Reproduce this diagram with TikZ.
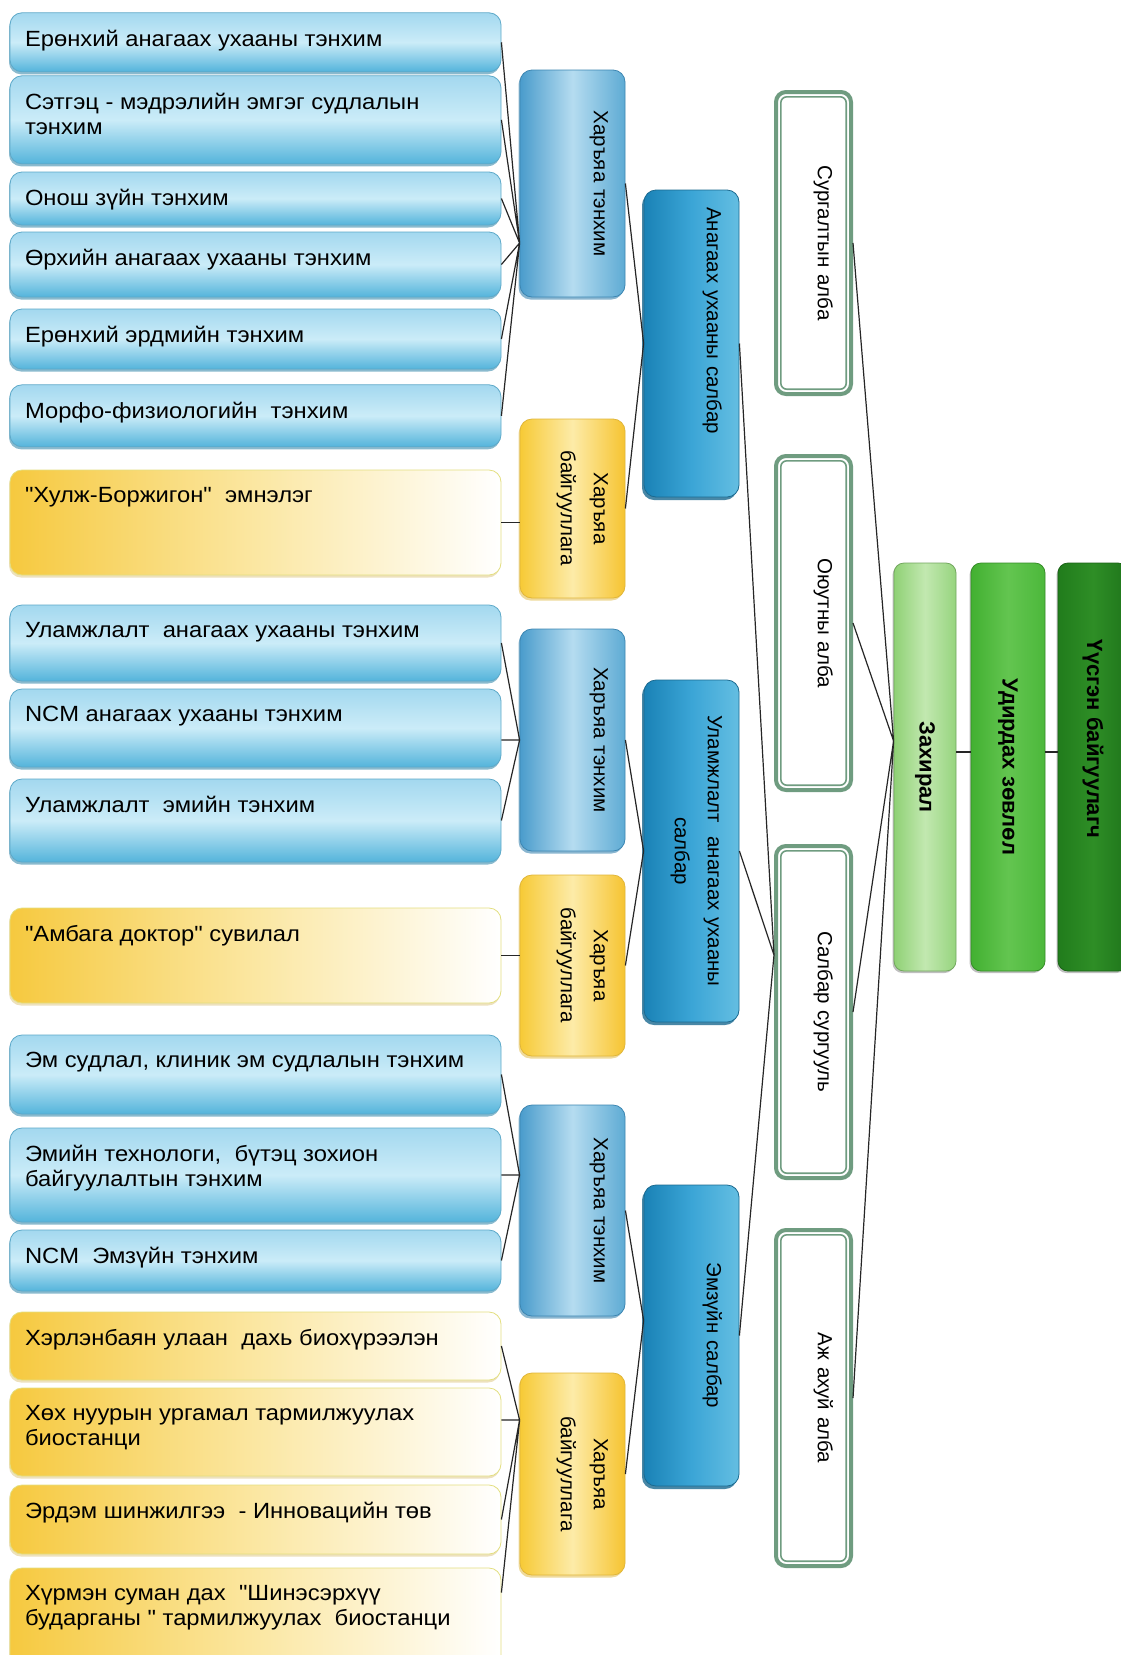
\documentclass[tikz,border=0pt]{standalone}
\usepackage{fontspec}
\setmainfont{Liberation Sans}
\newfontfamily\widefont{Liberation Sans}[FakeStretch=1.08]
\usepackage{graphicx}
\usetikzlibrary{shadows}

\definecolor{deptA}{HTML}{A3D8EF}
\definecolor{deptB}{HTML}{CBECF8}
\definecolor{deptC}{HTML}{54B4DB}
\definecolor{deptedge}{HTML}{5DA9C9}
\definecolor{deptshade}{HTML}{3D8DAE}
\definecolor{unitA}{HTML}{F6C93F}
\definecolor{unitB}{HTML}{FBE7A2}
\definecolor{unitedge}{HTML}{E3DF80}
\definecolor{unitshade}{HTML}{D2B45A}
\definecolor{grpA}{HTML}{4A9CCC}
\definecolor{grpB}{HTML}{B5DCF0}
\definecolor{grpC}{HTML}{5EABD4}
\definecolor{grpedge}{HTML}{3C86B2}
\definecolor{orgA}{HTML}{F7CA36}
\definecolor{orgB}{HTML}{FDEBA8}
\definecolor{orgC}{HTML}{F6C431}
\definecolor{orgedge}{HTML}{E0B63A}
\definecolor{brA}{HTML}{1A82B6}
\definecolor{brB}{HTML}{3BA5D6}
\definecolor{brC}{HTML}{64BEE2}
\definecolor{bredge}{HTML}{1B6A90}
\definecolor{offgreen}{HTML}{6F9C80}
\definecolor{zahA}{HTML}{8FD175}
\definecolor{zahB}{HTML}{C2E8B0}
\definecolor{zahC}{HTML}{96D47E}
\definecolor{udA}{HTML}{42B031}
\definecolor{udB}{HTML}{63C550}
\definecolor{udC}{HTML}{4CB83B}
\definecolor{usA}{HTML}{217C1C}
\definecolor{usB}{HTML}{2E8E26}
\definecolor{usC}{HTML}{1F751B}

\newcommand\lefttext{\widefont\fontsize{22}{25.5}\selectfont}
\newcommand\sidetext{\fontsize{20.5}{33}\selectfont}
\newcommand\leadtext{\bfseries\fontsize{22}{26}\selectfont}
\newcommand\vlabel[1]{\rotatebox{-90}{#1}}
\newcommand\twolines[2]{\vbox{\halign{\hfil##\hfil\cr#1\cr#2\cr}}}

\begin{document}
\begin{tikzpicture}[x=1pt, y=-1pt,
  link/.style={draw=black!85, line width=1.2pt},
  leftbox/.style={rounded corners=12pt, line width=0.8pt, minimum width=491pt, minimum height=#1,
    inner xsep=15pt, inner ysep=17pt, font=\lefttext,
    execute at begin node={\begin{minipage}[c][\dimexpr#1-34pt\relax][t]{461pt}\raggedright},
    execute at end node={\end{minipage}}},
  deptbox/.style={leftbox=#1, draw=deptedge, top color=deptA, bottom color=deptC, middle color=deptB,
    drop shadow={shadow xshift=-1pt, shadow yshift=-2.5pt, fill=deptshade, opacity=0.6}},
  unitbox/.style={leftbox=#1, draw=unitedge, left color=unitA, right color=white, middle color=unitB,
    drop shadow={shadow xshift=-1pt, shadow yshift=-2.5pt, fill=unitshade, opacity=0.4}},
  sidebox/.style={rounded corners=12pt, line width=0.8pt, minimum height=#1, align=right,
    inner xsep=17pt, inner ysep=0pt, font=\sidetext},
  grptenhim/.style={sidebox=#1, minimum width=105pt, text width=71pt, draw=grpedge,
    left color=grpA, right color=grpC, middle color=grpB,
    drop shadow={shadow xshift=-1.5pt, shadow yshift=-2.5pt, fill=grpedge, opacity=0.6}},
  grporg/.style={sidebox=#1, minimum width=105pt, text width=71pt, draw=orgedge,
    left color=orgA, right color=orgC, middle color=orgB,
    drop shadow={shadow xshift=-1.5pt, shadow yshift=-2.5pt, fill=orgedge, opacity=0.5}},
  salbar/.style={sidebox=#1, minimum width=95pt, text width=61pt, draw=bredge,
    left color=brA, right color=brC, middle color=brB,
    drop shadow={shadow xshift=-2pt, shadow yshift=-3pt, fill=bredge, opacity=0.8}},
  office/.style={sidebox=#1, minimum width=75pt, text width=39pt, inner xsep=18pt,
    draw=offgreen, line width=4pt, fill=white, rounded corners=10pt},
  officein/.style={draw=offgreen, line width=1.6pt, rounded corners=6pt},
  lead/.style={rounded corners=10pt, line width=0.8pt, minimum height=408pt, font=\leadtext,
    drop shadow={shadow xshift=-1.5pt, shadow yshift=-2pt, fill=black, opacity=0.25}}]

  \useasboundingbox (0,0) rectangle (1120,1655);
  \fill[white] (0,0) rectangle (1120,1655);

  % left column: departments and units
  \node[deptbox=59pt] (b1) at (255.5,42.3) {Ерөнхий анагаах ухааны тэнхим};
  \node[deptbox=88pt] (b2) at (255.5,119.8) {Сэтгэц - мэдрэлийн эмгэг судлалын\\тэнхим};
  \node[deptbox=53pt] (b3) at (255.5,198.5) {Онош зүйн тэнхим};
  \node[deptbox=65pt] (b4) at (255.5,264.5) {Өрхийн анагаах ухааны тэнхим};
  \node[deptbox=60pt] (b5) at (255.5,339) {Ерөнхий эрдмийн тэнхим};
  \node[deptbox=62pt] (b6) at (255.5,415.8) {Морфо-физиологийн~ тэнхим};
  \node[unitbox=105pt] (y1) at (255.5,522.5) {"Хулж-Боржигон"~ эмнэлэг};
  \node[deptbox=76pt] (b7) at (255.5,643) {Уламжлалт~ анагаах ухааны тэнхим};
  \node[deptbox=78pt] (b8) at (255.5,728) {NCM анагаах ухааны тэнхим};
  \node[deptbox=83pt] (b9) at (255.5,820.5) {Уламжлалт~ эмийн тэнхим};
  \node[unitbox=95pt] (y2) at (255.5,955.5) {"Амбага доктор" сувилал};
  \node[deptbox=79pt] (b10) at (255.5,1074.5) {Эм судлал, клиник эм судлалын тэнхим};
  \node[deptbox=94pt] (b11) at (255.5,1175) {Эмийн технологи,~ бүтэц зохион\\байгуулалтын тэнхим};
  \node[deptbox=61pt] (b12) at (255.5,1260.5) {NCM~ Эмзүйн тэнхим};
  \node[unitbox=68pt] (y3) at (255.5,1346) {Хэрлэнбаян улаан~ дахь биохүрээлэн};
  \node[unitbox=88pt] (y4) at (255.5,1432) {Хөх нуурын ургамал тармилжуулах\\биостанци};
  \node[unitbox=69pt] (y5) at (255.5,1519.5) {Эрдэм шинжилгээ~ - Инновацийн төв};
  \node[unitbox=122pt] (y6) at (255.5,1629) {Хүрмэн суман дах~ "Шинэсэрхүү\\бударганы " тармилжуулах~ биостанци};

  % group boxes
  \node[grptenhim=227pt] (ht1) at (572.5,183.5) {\vlabel{Харъяа тэнхим}};
  \node[grporg=179pt] (hb1) at (572.5,508.5) {\vlabel{\twolines{Харъяа}{байгууллага}}};
  \node[grptenhim=222pt] (ht2) at (572.5,740) {\vlabel{Харъяа тэнхим}};
  \node[grporg=181pt] (hb2) at (572.5,965.5) {\vlabel{\twolines{Харъяа}{байгууллага}}};
  \node[grptenhim=211pt] (ht3) at (572.5,1210.5) {\vlabel{Харъяа тэнхим}};
  \node[grporg=202pt] (hb3) at (572.5,1474) {\vlabel{\twolines{Харъяа}{байгууллага}}};

  % branches
  \node[salbar=307pt] (s1) at (691.5,343.5) {\vlabel{Анагаах ухааны салбар\hspace*{46pt}}};
  \node[salbar=342pt] (s2) at (691.5,851) {\vlabel{\twolines{Уламжлалт~ анагаах ухааны}{салбар}}};
  \node[salbar=301pt] (s3) at (691.5,1335.5) {\vlabel{Эмзүйн салбар}};

  % offices
  \node[office=302pt] (a1) at (813.5,243) {\vlabel{Сургалтын алба}};
  \node[office=334pt] (a2) at (813.5,623) {\vlabel{Оюутны алба}};
  \node[office=332pt] (a3) at (813.5,1012) {\vlabel{Салбар сургууль}};
  \node[office=336pt] (a4) at (813.5,1398) {\vlabel{Аж ахуй алба}};
  \foreach \o in {a1,a2,a3,a4}
    \draw[officein] ([shift={(6.8pt,-6.8pt)}]\o.north west) rectangle ([shift={(-6.8pt,6.8pt)}]\o.south east);

  % management
  \node[lead, minimum width=62pt, draw=zahA!80!black, left color=zahA, right color=zahC, middle color=zahB] (zah) at (925,767) {\vlabel{Захирал}};
  \node[lead, minimum width=74pt, draw=udA!80!black, left color=udA, right color=udC, middle color=udB] (udir) at (1008,767) {\vlabel{Удирдах зөвлөл}};
  \node[lead, minimum width=70pt, draw=usA!80!black, left color=usA, right color=usC, middle color=usB] (uusg) at (1093,767) {\vlabel{Үүсгэн байгуулагч\hspace*{56pt}}};

  % connectors
  \coordinate (j1) at (ht1.west |- 0,243);
  \draw[link] (b1.east) -- (j1) (b2.east) -- (j1) (b3.east) -- (j1)
    (b4.east) -- (j1) (b5.east) -- (j1) (b6.east) -- (j1);
  \draw[link] (y1.east) -- (y1.east -| hb1.west);
  \draw[link] (ht1.east) -- (s1.west) (hb1.east) -- (s1.west);

  \coordinate (j2) at (ht2.west);
  \draw[link] (b7.east) -- (j2) (b8.east |- j2) -- (j2) (b9.east) -- (j2);
  \draw[link] (y2.east) -- (y2.east -| hb2.west);
  \draw[link] (ht2.east) -- (s2.west) (hb2.east) -- (s2.west);

  \coordinate (j3) at (b11.east -| ht3.west);
  \draw[link] (b10.east) -- (j3) (b11.east) -- (j3) (b12.east) -- (j3);
  \coordinate (j4) at (hb3.west |- 0,1420);
  \draw[link] (y3.east) -- (j4) (y4.east |- j4) -- (j4) (y5.east) -- (j4)
    ([yshift=-25pt]y6.north east) -- (j4);
  \coordinate (j5) at ([yshift=15pt]s3.west);
  \draw[link] (ht3.east) -- (j5) (hb3.east) -- (j5);

  \coordinate (j6) at ([yshift=57pt]a3.west);
  \draw[link] (s1.east) -- (j6) (s2.east) -- (j6) (s3.east) -- (j6);
  \coordinate (j7) at ([yshift=26pt]zah.west);
  \draw[link] (a1.east) -- (j7) (a2.east) -- (j7) (a3.east) -- (j7) (a4.east) -- (j7);
  \draw[link] ([yshift=15pt]zah.east) -- ([yshift=15pt]udir.west)
    ([yshift=15pt]udir.east) -- ([yshift=15pt]uusg.west);
\end{tikzpicture}
\end{document}
